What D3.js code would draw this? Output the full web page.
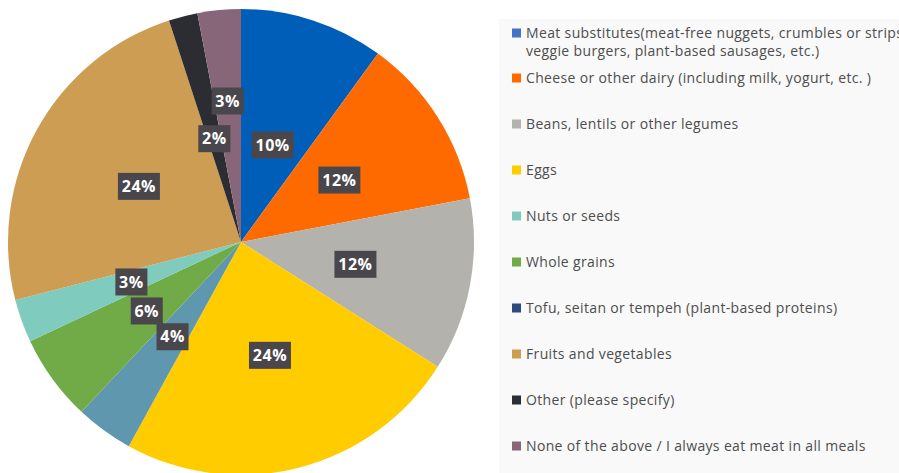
<!DOCTYPE html>
<html>
<head>
<meta charset="utf-8">
<script src="https://cdn.jsdelivr.net/npm/d3@7"></script>
<style>
  body { margin: 0; background: #ffffff; }
  svg { display: block; }
  .legendText { font-family: "Open Sans", sans-serif; font-size: 14px; letter-spacing: 0.35px; fill: #4d4d4d; }
  .pctLabel { font-family: "Open Sans", sans-serif; font-size: 16px; font-weight: 700; letter-spacing: 0.5px; fill: #ffffff; }
</style>
</head>
<body>
<div id="pie-chart"></div>
<script>
// legend order (as listed on the right)
const categories = [
  "Meat substitutes(meat-free nuggets, crumbles or strips, veggie burgers, plant-based sausages, etc.)",
  "Cheese or other dairy (including milk, yogurt, etc. )",
  "Beans, lentils or other legumes",
  "Eggs",
  "Nuts or seeds",
  "Whole grains",
  "Tofu, seitan or tempeh (plant-based proteins)",
  "Fruits and vegetables",
  "Other (please specify)",
  "None of the above / I always eat meat in all meals"
]
const legendColours = ["#4472c4", "#ff6a00", "#b3b2ad", "#ffcc00", "#7fcbbd", "#71ab47", "#2c4a7e", "#cc9d52", "#2b2d33", "#876679"]

// slices in the order they are drawn, clockwise from 12 o'clock
const sliceNames = ["Meat substitutes", "Cheese or other dairy", "Beans, lentils or other legumes", "Eggs",
  "Tofu, seitan or tempeh", "Whole grains", "Nuts or seeds", "Fruits and vegetables", "Other", "None of the above"]
const sliceValues = [10, 12, 12, 24, 4, 6, 3, 24, 2, 3]
const sliceColours = ["#005eb8", "#ff6a00", "#b3b2ad", "#ffcc00", "#5f97ae", "#71ab47", "#7fcbbd", "#cc9d52", "#2b2d33", "#876679"]

let width = 899
let height = 473

let svg = d3.select("#pie-chart").append("svg")
  .attr("width", width)
  .attr("height", height)

const cx = 241, cy = 242, radius = 233

let pie = d3.pie().sort(null).value(d => d)
let arcs = pie(sliceValues)

let arc = d3.arc().innerRadius(0).outerRadius(radius)

let g = svg.append("g").attr("transform", `translate(${cx},${cy})`)

g.selectAll("path.slice")
  .data(arcs)
  .enter()
  .append("path")
  .attr("class", "slice")
  .attr("d", arc)
  .style("fill", (d, i) => sliceColours[i])

// label radius, pushed around a little where small slices crowd each other
const labelRadiusFactor = i => i == 9 ? 0.61 : (i == 8 ? 0.46 : (i == 0 ? 0.44 : 0.5))

let labels = g.selectAll("g.pct")
  .data(arcs)
  .enter()
  .append("g")
  .attr("class", "pct")
  .attr("transform", (d, i) => {
    let a = (d.startAngle + d.endAngle) / 2
    let r = radius * labelRadiusFactor(i)
    return `translate(${r * Math.sin(a)},${-r * Math.cos(a)})`
  })

labels.append("rect")
  .attr("x", d => d.data >= 10 ? -21 : -16)
  .attr("y", -13)
  .attr("width", d => d.data >= 10 ? 42 : 32)
  .attr("height", 27)
  .style("fill", "#4a474c")

labels.append("text")
  .attr("class", "pctLabel")
  .attr("text-anchor", "middle")
  .attr("dy", "0.38em")
  .text(d => d.data + "%")

// legend panel
svg.append("rect")
  .attr("x", 499)
  .attr("y", 19)
  .attr("width", width - 499)
  .attr("height", height - 19)
  .style("fill", "#f9f9f9")

let legendY = [33, 78, 124, 170, 216, 262, 308, 354, 400, 446]
let legendLines = [
  ["Meat substitutes(meat-free nuggets, crumbles or strips,", "veggie burgers, plant-based sausages, etc.)"]
].concat(categories.slice(1).map(c => [c]))

let legend = svg.selectAll("g.legendItem")
  .data(categories)
  .enter()
  .append("g")
  .attr("class", "legendItem")
  .attr("transform", (d, i) => `translate(512,${legendY[i]})`)

legend.append("rect")
  .attr("x", 0)
  .attr("y", -4.5)
  .attr("width", 9)
  .attr("height", 9)
  .style("fill", (d, i) => legendColours[i])

legend.append("text")
  .attr("class", "legendText")
  .attr("x", 14)
  .selectAll("tspan")
  .data((d, i) => legendLines[i])
  .enter()
  .append("tspan")
  .attr("x", 14)
  .attr("dy", (d, j) => j == 0 ? "0.35em" : "18px")
  .text(d => d)
</script>
</body>
</html>
